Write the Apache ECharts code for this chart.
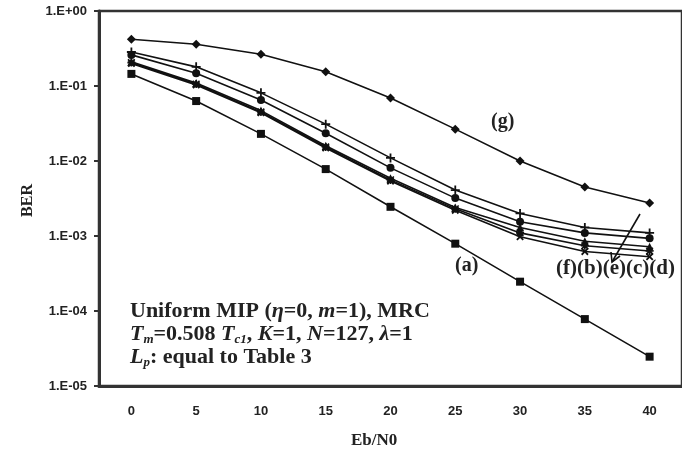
<!DOCTYPE html>
<html>
<head>
<meta charset="utf-8">
<script src="https://cdn.jsdelivr.net/npm/echarts@6/dist/echarts.min.js"></script>
<style>
html,body{margin:0;padding:0;background:#fff;}
#main{width:682px;height:454px;}
</style>
</head>
<body>
<div id="main"></div>
<script>
// Eb/N0 categories
var ebn0 = ['0', '5', '10', '15', '20', '25', '30', '35', '40'];
// BER curves
var berA = [0.145, 0.063, 0.023, 0.0078, 0.00245, 0.00079, 0.000246, 0.000078, 0.0000246];
var berB = [0.26, 0.148, 0.065, 0.0235, 0.0081, 0.0032, 0.00155, 0.0011, 0.00093];
var berC = [0.205, 0.106, 0.045, 0.0154, 0.0056, 0.0023, 0.0011, 0.00074, 0.00063];
var berD = [0.2, 0.103, 0.044, 0.0149, 0.0054, 0.0022, 0.00098, 0.00062, 0.00053];
var berE = [0.21, 0.11, 0.047, 0.016, 0.0059, 0.0024, 0.0013, 0.00085, 0.00072];
var berF = [0.284, 0.18, 0.081, 0.031, 0.011, 0.0041, 0.002, 0.0013, 0.0011];
var berG = [0.42, 0.36, 0.265, 0.155, 0.069, 0.0266, 0.01, 0.0045, 0.00275];

var plusPath = 'path://M4,0H6V4H10V6H6V10H4V6H0V4H4Z';
var starPath = 'path://M4,0H6V4H10V6H6V10H4V6H0V4H4Z M1.5,0.1L5,3.6L8.5,0.1L9.9,1.5L6.4,5L9.9,8.5L8.5,9.9L5,6.4L1.5,9.9L0.1,8.5L3.6,5L0.1,1.5Z';

var ink = '#111';
var serif = '"Liberation Serif", "DejaVu Serif", serif';

// 曲线通用设置
function curve(name, data, symbol, size, rotate) {
    return {
        name: name,
        type: 'line',
        data: data,
        symbol: symbol,
        symbolSize: size,
        symbolRotate: rotate || 0,
        showSymbol: true,
        lineStyle: {color: ink, width: 1.6},
        itemStyle: {color: ink, borderColor: ink, borderWidth: 0},
        z: 3
    };
}

function expLabel(v) {
    var e = Math.round(Math.log10(v));
    var s = Math.abs(e);
    return '1.E' + (e >= 0 ? '+' : '-') + (s < 10 ? '0' : '') + s;
}

var myChart = echarts.init(document.getElementById('main'));
var option = {
    animation: false,
    backgroundColor: '#fff',
    grid: {
        left: 99, right: -2, top: 11, bottom: 68,
        show: true, borderColor: '#333', borderWidth: 2.5
    },
    xAxis: {
        type: 'category',
        data: ebn0,
        boundaryGap: true,
        axisLine: {lineStyle: {color: '#333', width: 3}},
        axisTick: {inside: true, length: 5, lineStyle: {color: '#333', width: 2}},
        axisLabel: {
            margin: 19, color: '#222', fontSize: 13, fontWeight: 'bold',
            fontFamily: '"Liberation Sans", Arial, sans-serif'
        },
        splitLine: {show: false}
    },
    yAxis: {
        type: 'log',
        logBase: 10,
        min: 1e-5,
        max: 1,
        splitNumber: 5,
        axisLine: {show: true, lineStyle: {color: '#333', width: 3}},
        axisTick: {show: true, inside: false, length: 5, lineStyle: {color: '#333', width: 2}},
        minorTick: {show: false},
        axisLabel: {
            margin: 12, color: '#222', fontSize: 13, fontWeight: 'bold',
            fontFamily: '"Liberation Sans", Arial, sans-serif',
            formatter: expLabel
        },
        splitLine: {show: false}
    },
    series: [
        curve('(g)', berG, 'diamond', 9),
        curve('(f)', berF, plusPath, 9),
        curve('(b)', berB, 'circle', 8),
        curve('(e)', berE, 'triangle', 8),
        curve('(c)', berC, starPath, 8),
        curve('(d)', berD, plusPath, 9, 45),
        curve('(a)', berA, 'rect', 8)
    ],
    graphic: [
        {type: 'text', left: 20, top: 184, rotation: Math.PI / 2,
            style: {text: 'BER', font: 'bold 16px ' + serif, fill: '#222'}},
        {type: 'text', left: 351, top: 432,
            style: {text: 'Eb/N0', font: 'bold 17px ' + serif, fill: '#222'}},
        {type: 'text', left: 491, top: 112,
            style: {text: '(g)', font: 'bold 20px ' + serif, fill: '#222'}},
        {type: 'text', left: 455, top: 256,
            style: {text: '(a)', font: 'bold 20px ' + serif, fill: '#222'}},
        {type: 'text', left: 556, top: 258,
            style: {text: '(f)(b)(e)(c)(d)', font: 'bold 21px ' + serif, fill: '#222'}},
        // 箭头
        {type: 'line', shape: {x1: 640, y1: 214, x2: 612, y2: 262},
            style: {stroke: ink, lineWidth: 1.6}},
        {type: 'polyline', shape: {points: [[611, 252], [612, 262], [620, 256]]},
            style: {stroke: ink, lineWidth: 1.6, fill: null}},
        {type: 'text', left: 130, top: 300,
            style: {
                text: '{n|Uniform MIP (}{i|η}{n|=0, }{i|m}{n|=1), MRC}\n' +
                    '{i|T}{s|m}{n|=0.508 }{i|T}{s|c1}{n|, }{i|K}{n|=1, }{i|N}{n|=127, }{i|λ}{n|=1}\n' +
                    '{i|L}{s|p}{n|: equal to Table 3}',
                rich: {
                    n: {font: 'bold 22px ' + serif, fill: '#222', lineHeight: 23},
                    i: {font: 'italic bold 22px ' + serif, fill: '#222', lineHeight: 23},
                    s: {font: 'italic bold 13px ' + serif, fill: '#222', lineHeight: 23, padding: [11, 0, 0, 0]}
                }
            }}
    ]
};
myChart.setOption(option);
</script>
</body>
</html>
